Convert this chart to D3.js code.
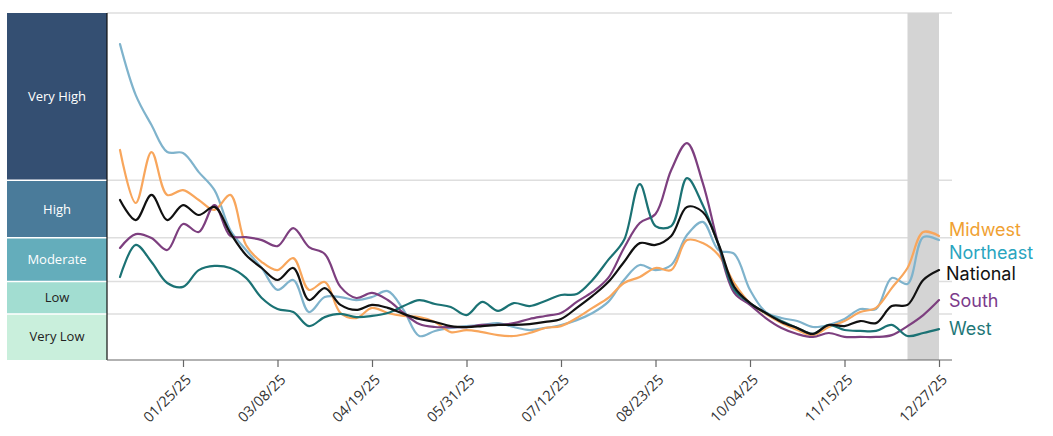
<!DOCTYPE html>
<html><head><meta charset="utf-8">
<script src="https://cdn.jsdelivr.net/npm/d3@7"></script>
<style>
html,body{margin:0;padding:0;background:#fff;}
svg{display:block;}
</style></head>
<body>
<svg id="chart" width="1053" height="436"></svg>
<script>
// ---------- DATA ----------
const startDate = "2024-12-28";   // first weekly observation
const weeks = 53;
const tickLabels = ["01/25/25","03/08/25","04/19/25","05/31/25","07/12/25","08/23/25","10/04/25","11/15/25","12/27/25"];
const levelNames = ["Very Low","Low","Moderate","High","Very High"];
const levelThresholds = [0, 2, 3.4, 5.3, 7.8, 15.05];
const seriesNames = ["Midwest","Northeast","National","South","West"];
const midwest = [9.11,6.81,9.02,7.16,7.37,6.94,6.51,7.16,4.99,4.25,3.90,4.42,3.04,3.38,2.04,1.82,2.26,2.04,1.91,1.86,1.65,1.21,1.30,1.21,1.08,1.04,1.17,1.39,1.47,1.82,2.26,2.69,3.34,3.60,3.99,3.90,5.20,5.07,4.55,3.34,2.47,2.00,1.60,1.30,1.08,1.43,1.69,2.08,2.26,3.12,3.99,5.55,5.38];
const northeast = [13.70,11.49,10.19,9.02,8.98,8.15,7.37,5.64,4.77,3.99,3.04,3.47,2.08,2.73,2.73,2.60,2.73,2.99,2.17,1.04,1.26,1.39,1.47,1.52,1.60,1.43,1.30,1.39,1.52,1.73,2.04,2.52,3.47,4.12,3.90,4.12,5.42,5.99,4.77,4.60,3.04,2.08,1.82,1.69,1.43,1.52,1.78,2.21,2.21,3.56,3.30,5.33,5.20];
const national = [6.94,6.07,7.16,6.07,6.72,6.29,6.64,5.51,4.55,3.99,3.47,3.99,2.60,3.12,2.39,2.17,2.39,2.26,2.00,1.78,1.65,1.47,1.43,1.47,1.52,1.52,1.56,1.65,1.78,2.26,2.78,3.38,4.25,5.07,4.99,5.38,6.64,6.42,5.03,3.17,2.47,2.04,1.65,1.39,1.13,1.52,1.47,1.69,1.60,2.34,2.39,3.47,3.90];
const south = [4.86,5.46,5.29,4.77,5.90,5.55,6.72,5.38,5.33,5.20,4.94,5.72,4.90,4.60,3.17,2.69,2.91,2.60,2.04,1.56,1.43,1.43,1.43,1.52,1.52,1.60,1.78,1.91,2.04,2.52,2.95,3.56,4.86,5.94,6.33,8.24,9.41,7.68,4.99,2.91,2.39,1.82,1.39,1.13,1.00,1.17,1.00,1.00,1.00,1.08,1.47,1.95,2.60];
const west = [3.60,4.99,4.25,3.34,3.17,3.90,4.08,3.99,3.56,2.69,2.21,2.08,1.47,1.86,2.00,1.86,1.91,2.04,2.34,2.60,2.43,2.30,1.95,2.52,2.13,2.47,2.34,2.56,2.82,2.86,3.47,4.34,5.20,7.63,5.81,5.81,7.89,6.72,4.99,3.04,2.47,2.04,1.69,1.39,1.13,1.52,1.30,1.26,1.26,1.52,1.04,1.17,1.34];
const shadeStart = "2025-12-13";
const shadeEnd = "2025-12-27";

// ---------- LAYOUT ----------
const svg = d3.select("#chart");
const plotL = 107, plotR = 952, plotT = 13, plotB = 360;
const parse = d3.timeParse("%Y-%m-%d");
const parseTick = d3.timeParse("%m/%d/%y");
const t0 = parse(startDate);
const dates = d3.range(weeks).map(i => d3.timeDay.offset(t0, 7*i));

const x = d3.scaleTime().domain([dates[0], dates[dates.length-1]]).range([120, 939]);
const y = d3.scaleLinear().domain([0, 15.05]).range([plotB, plotT]);

const bandColors = ["#c9efdc","#a2ddd1","#64adbb","#4a7b9a","#344f72"];
const bandTextColors = ["#222","#222","#fff","#fff","#fff"];
const lineColors = {Midwest:"#f8a65c",Northeast:"#7fb3cc",National:"#111",South:"#7d3f7f",West:"#1b7274"};
const labelColors = {Midwest:"#f0a132",Northeast:"#2aa5bf",National:"#111",South:"#7c3b8b",West:"#1f7778"};
const seriesData = {Midwest:midwest,Northeast:northeast,National:national,South:south,West:west};

// level bands on the left
const bands = levelNames.map((n,i)=>({name:n, lo:levelThresholds[i], hi:levelThresholds[i+1], i}));
const bg = svg.append("g");
bg.selectAll("rect").data(bands).join("rect")
  .attr("x", 7).attr("width", plotL-7)
  .attr("y", d => y(d.hi)).attr("height", d => y(d.lo)-y(d.hi))
  .attr("fill", d => bandColors[d.i]);
bg.selectAll("line.sep").data(bands.slice(1)).join("line").attr("class","sep")
  .attr("x1",7).attr("x2",plotL).attr("y1",d=>y(d.lo)).attr("y2",d=>y(d.lo))
  .attr("stroke","#fff").attr("stroke-width",1.5);
bg.selectAll("text").data(bands).join("text")
  .attr("x", 57).attr("y", d => (y(d.lo)+y(d.hi))/2)
  .attr("dy","0.35em").attr("text-anchor","middle")
  .attr("font-family","'Open Sans', sans-serif").attr("font-size",13)
  .attr("fill", d => bandTextColors[d.i]).text(d => d.name);

// gridlines
const grid = svg.append("g");
grid.selectAll("line").data(levelThresholds.slice(1)).join("line")
  .attr("x1", plotL).attr("x2", plotR)
  .attr("y1", d => y(d)).attr("y2", d => y(d))
  .attr("stroke","#dedede").attr("stroke-width",1.5);

// shaded (incomplete data) region
svg.append("rect")
  .attr("x", x(parse(shadeStart))).attr("width", x(parse(shadeEnd)) - x(parse(shadeStart)))
  .attr("y", plotT).attr("height", plotB-plotT).attr("fill","#d4d4d4");

// lines
const line = d3.line().x((d,i)=>x(dates[i])).y(d=>y(d)).curve(d3.curveCatmullRom.alpha(0.5));
const order = ["Northeast","Midwest","South","West","National"];
svg.append("g").selectAll("path").data(order).join("path")
  .attr("d", k => line(seriesData[k]))
  .attr("fill","none").attr("stroke", k => lineColors[k])
  .attr("stroke-width",2.2).attr("stroke-linejoin","round").attr("stroke-linecap","round");

// axes
svg.append("line").attr("x1",plotL).attr("x2",plotL).attr("y1",plotT).attr("y2",plotB)
  .attr("stroke","#111").attr("stroke-width",1.2);
const xAxis = d3.axisBottom(x).tickValues(tickLabels.map(parseTick))
  .tickFormat(d3.timeFormat("%m/%d/%y")).tickSize(7).tickSizeOuter(0);
const gx = svg.append("g").attr("transform",`translate(0,${plotB})`).call(xAxis);
gx.select(".domain").remove();
gx.append("line").attr("x1",plotL).attr("x2",plotR).attr("stroke","#666").attr("stroke-width",1.2);
gx.selectAll(".tick line").attr("stroke","#666").attr("stroke-width",1.2);
gx.selectAll(".tick text")
  .attr("font-family","'Open Sans', sans-serif").attr("font-size",14.5).attr("fill","#333")
  .attr("text-anchor","end").attr("x",0).attr("y",0).attr("dy","0.35em")
  .attr("transform","translate(5,17) rotate(-45)");

// series labels at right
const labelOffsets = {Midwest:-6,Northeast:13,National:4,South:1,West:0};
svg.append("g").selectAll("text").data(seriesNames).join("text")
  .attr("x", k => k==="National" ? 946 : 949)
  .attr("y", k => y(seriesData[k][weeks-1]) + labelOffsets[k])
  .attr("dy","0.35em")
  .attr("font-family","Inter, sans-serif").attr("font-size",18)
  .attr("fill", k => labelColors[k]).text(k => k);
</script>
</body></html>
